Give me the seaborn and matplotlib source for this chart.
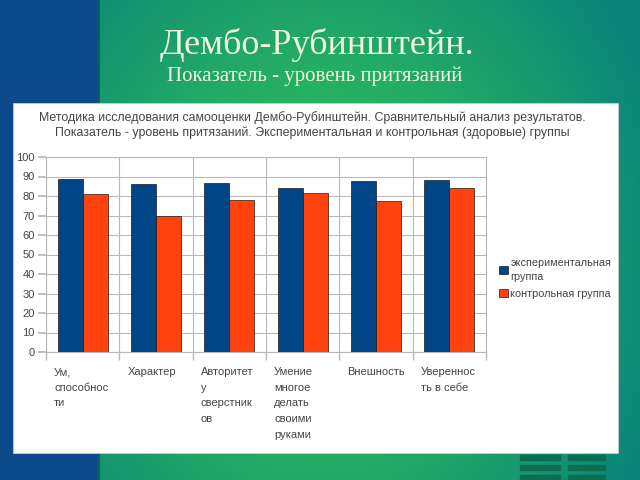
import numpy as np
import pandas as pd
import matplotlib
matplotlib.use("Agg")
import matplotlib.pyplot as plt
import matplotlib.transforms as mtransforms
from matplotlib.patches import Rectangle
import seaborn as sns

categories = ["Ум,\nспособнос\nти", "Характер", "Авторитет\nу\nсверстник\nов",
              "Умение\nмногое\nделать\nсвоими\nруками", "Внешность", "Увереннос\nть в себе"]
experimental = [88.7, 86.2, 86.5, 83.9, 87.5, 88.0]
control = [81.0, 69.7, 77.9, 81.4, 77.4, 84.3]
series_names = ["экспериментальная\nгруппа", "контрольная группа"]
yticks = [0, 10, 20, 30, 40, 50, 60, 70, 80, 90, 100]

slide_title = "Дембо-Рубинштейн."
slide_subtitle = "Показатель - уровень притязаний"
chart_title = ("Методика исследования самооценки Дембо-Рубинштейн. Сравнительный анализ результатов.\n"
               "Показатель - уровень притязаний. Экспериментальная и контрольная (здоровые) группы")

df = pd.DataFrame({
    "cat": categories * 2,
    "val": experimental + control,
    "grp": [series_names[0]] * len(categories) + [series_names[1]] * len(categories),
})

sns.set_theme(style="white")
plt.rcParams["font.family"] = ["Liberation Sans", "DejaVu Sans"]

W, H = 640, 480
fig = plt.figure(figsize=(6.4, 4.8), dpi=100)

# ---- slide background ----
bg = fig.add_axes([0, 0, 1, 1])
bg.set_xlim(0, W)
bg.set_ylim(H, 0)
bg.axis("off")
xx, yy = np.meshgrid(np.arange(W), np.arange(H))
d = np.sqrt(((xx - 320) / 360.0) ** 2 + ((yy - 260) / 420.0) ** 2)
t = np.clip(d, 0, 1)[..., None] ** 1.3
c_center = np.array([0x34, 0xc4, 0x58]) / 255.0
c_edge = np.array([0x0a, 0x84, 0x7a]) / 255.0
img = c_center * (1 - t) + c_edge * t
blue = np.array([0x0d, 0x4a, 0x8c]) / 255.0
img[:, :97, :] = blue
bg.imshow(img, extent=(0, W, H, 0), aspect="auto", zorder=0)
bg.plot([97.5, 97.5], [0, H], color="#0b5a55", lw=2, zorder=1)
# decorative stripes
for yv in (455, 465, 475):
    bg.add_patch(Rectangle((520, yv), 40, 5, color="#0b6e50", zorder=1))
    bg.add_patch(Rectangle((568, yv), 37, 5, color="#0b6e50", zorder=1))
# white chart panel
bg.add_patch(Rectangle((13, 103), 605, 350, facecolor="white", edgecolor="#d0d0d0", lw=0.5, zorder=2))

bg.text(317, 45, slide_title, ha="center", va="center", fontsize=26,
        family=["Liberation Serif", "DejaVu Serif"], color="#eef7dc", zorder=3)
bg.text(315, 76, slide_subtitle, ha="center", va="center", fontsize=15,
        family=["Liberation Serif", "DejaVu Serif"], color="#eef7dc", zorder=3)
bg.text(312, 125, chart_title, ha="center", va="center", fontsize=8.9, color="#444444",
        linespacing=1.35, zorder=3)

# ---- chart ----
ax = fig.add_axes([46 / W, 1 - 352 / H, (486 - 46) / W, (352 - 157) / H])
sns.barplot(data=df, x="cat", y="val", hue="grp", palette=["#004586", "#ff420e"],
            saturation=1, width=0.68, edgecolor="#1a1a1a", linewidth=0.5, ax=ax,
            legend=True, zorder=3)
ax.set_ylim(0, 100)
ax.set_xlim(-0.5, len(categories) - 0.5)
ax.set_yticks(yticks)
ax.set_xlabel("")
ax.set_ylabel("")
grid_c = "#b8b8b8"
for s in ax.spines.values():
    s.set_color(grid_c)
    s.set_linewidth(0.8)
ax.yaxis.grid(True, color=grid_c, lw=0.8, zorder=0)
ax.set_xticks(np.arange(len(categories) + 1) - 0.5, minor=True)
ax.xaxis.grid(True, which="minor", color=grid_c, lw=0.8, zorder=0)
ax.set_axisbelow(True)
ax.tick_params(axis="y", which="major", left=True, length=6, color=grid_c, labelsize=8,
               labelcolor="#444444", pad=2)
ax.tick_params(axis="x", which="minor", bottom=True, length=6, color=grid_c)
ax.tick_params(axis="x", which="major", bottom=False, labelsize=8, labelcolor="#444444", pad=5)
offset = mtransforms.ScaledTranslation(-28.5 / 100.0, 0, fig.dpi_scale_trans)
for lbl in ax.get_xticklabels():
    lbl.set_ha("left")
    lbl.set_va("top")
    lbl.set_linespacing(1.7)
    lbl.set_transform(lbl.get_transform() + offset)

handles, labels = ax.get_legend_handles_labels()
leg = ax.legend(handles, labels, loc="upper left", bbox_to_anchor=(499 / W, 1 - 258 / H),
                bbox_transform=fig.transFigure, frameon=False, fontsize=7.8,
                handlelength=0.8, handleheight=0.8, handletextpad=0.25, labelspacing=0.65,
                borderpad=0, borderaxespad=0, labelcolor="#444444")
for txt in leg.get_texts():
    txt.set_linespacing(1.5)

fig.savefig("out.png", dpi=100)
